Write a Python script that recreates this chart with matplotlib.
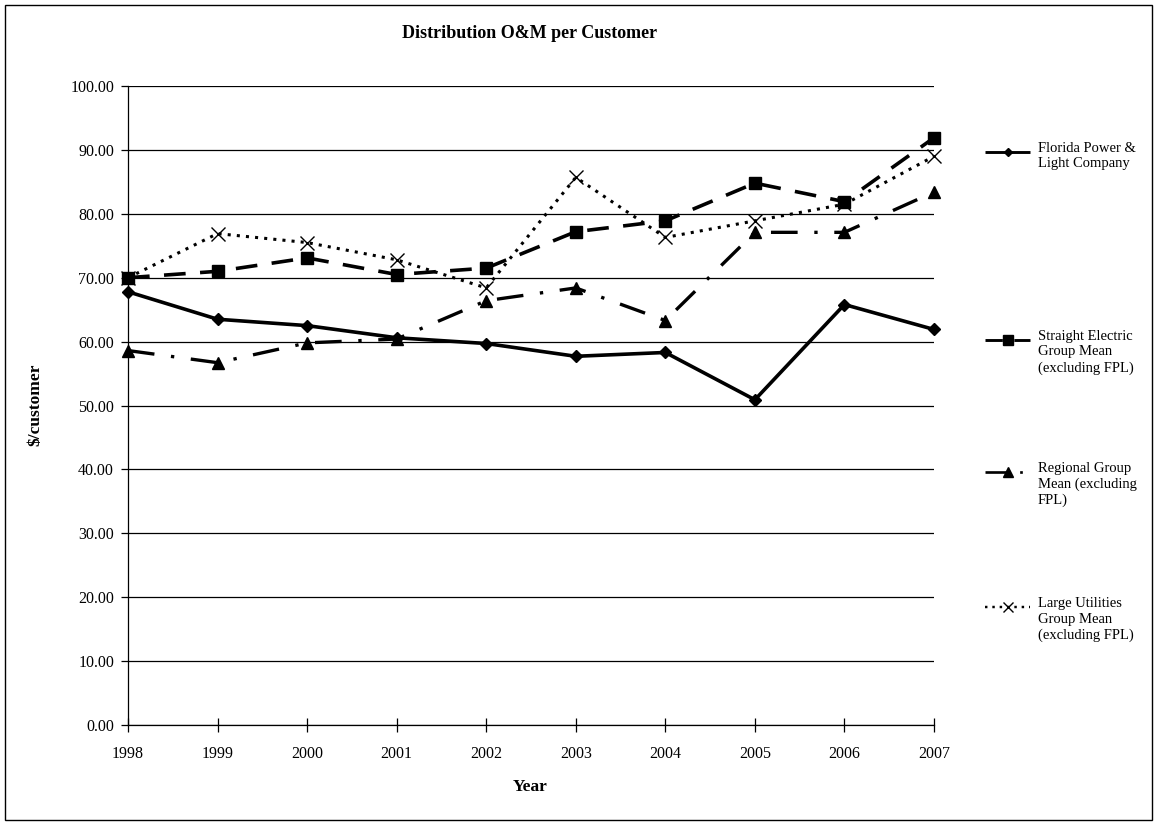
import matplotlib
matplotlib.use("Agg")
import matplotlib.pyplot as plt
from matplotlib.lines import Line2D
from matplotlib.patches import Rectangle

plt.rcParams['font.family'] = ['Liberation Serif', 'DejaVu Serif']

years = [1998, 1999, 2000, 2001, 2002, 2003, 2004, 2005, 2006, 2007]
fpl = [67.8, 63.5, 62.5, 60.6, 59.7, 57.7, 58.3, 50.9, 65.8, 61.9]
straight_electric = [70.0, 71.0, 73.1, 70.5, 71.5, 77.2, 78.9, 84.8, 81.9, 91.9]
regional = [58.6, 56.7, 59.8, 60.4, 66.4, 68.4, 63.3, 77.1, 77.1, 83.4]
large_utilities = [70.0, 76.9, 75.5, 72.8, 68.4, 85.7, 76.3, 78.9, 81.5, 89.0]

series_names = [
    "Florida Power &\nLight Company",
    "Straight Electric\nGroup Mean\n(excluding FPL)",
    "Regional Group\nMean (excluding\nFPL)",
    "Large Utilities\nGroup Mean\n(excluding FPL)",
]
y_ticks = [0, 10, 20, 30, 40, 50, 60, 70, 80, 90, 100]

W, H = 1160, 825
fig = plt.figure(figsize=(W / 100, H / 100), dpi=100)
ax = fig.add_axes([128 / W, 1 - 725 / H, (934 - 128) / W, (725 - 86) / H])

styles = [
    dict(data=fpl, marker="D", ms=6, lw=2.6, dashes=None),
    dict(data=straight_electric, marker="s", ms=9, lw=2.6, dashes=(6, 4)),
    dict(data=regional, marker="^", ms=9, lw=2.4, dashes=(8, 5, 1, 5)),
    dict(data=large_utilities, marker="x", ms=10, lw=2.2, dashes=(1, 2)),
]

for st in styles:
    line, = ax.plot(years, st["data"], color="black", lw=st["lw"], marker=st["marker"],
                    ms=st["ms"], mfc="black", mec="black", mew=1.0,
                    solid_capstyle="butt", dash_capstyle="butt", clip_on=False)
    if st["dashes"] is not None:
        line.set_dashes(st["dashes"])

ax.set_xlim(1998, 2007)
ax.set_ylim(0, 100)
ax.set_yticks(y_ticks)
ax.set_yticklabels([f"{v:.2f}" for v in y_ticks])
ax.set_xticks(years)
ax.set_xticklabels([str(y) for y in years])
ax.yaxis.grid(True, color="black", lw=0.9)
ax.set_axisbelow(True)
for side in ("top", "right"):
    ax.spines[side].set_visible(False)
ax.spines["left"].set_linewidth(0.9)
ax.spines["bottom"].set_linewidth(0.9)
ax.tick_params(axis="both", labelsize=11.5, colors="black", width=0.9)
ax.tick_params(axis="x", direction="inout", length=10, pad=10)
ax.tick_params(axis="y", direction="out", length=5, pad=5)

fig.text(530 / W, 1 - 33 / H, "Distribution O&M per Customer", ha="center", va="center",
         fontsize=13, fontweight="bold")
fig.text(35 / W, 1 - 405 / H, "$/customer", ha="center", va="center", rotation=90,
         fontsize=12.5, fontweight="bold")
fig.text(530 / W, 1 - 787 / H, "Year", ha="center", va="center",
         fontsize=12.5, fontweight="bold")

# legend drawn along the right side
legend_y = [152, 340, 472, 607]
for st, name, ly in zip(styles, series_names, legend_y):
    yf = 1 - ly / H
    ln = Line2D([985 / W, 1030 / W], [yf, yf], transform=fig.transFigure, color="black",
                lw=st["lw"] * 0.8, solid_capstyle="butt", dash_capstyle="butt")
    if st["dashes"] is not None:
        ln.set_dashes(st["dashes"])
    fig.add_artist(ln)
    mk = Line2D([1008 / W], [yf], transform=fig.transFigure, color="black", lw=0,
                marker=st["marker"], ms=st["ms"] * 0.75, mfc="black", mec="black")
    fig.add_artist(mk)
    fig.text(1038 / W, yf + 10 / H, name, ha="left", va="top", fontsize=10.5,
             linespacing=1.25)

fig.add_artist(Rectangle((5 / W, 5 / H), 1147 / W, 815 / H, transform=fig.transFigure,
                         fill=False, ec="black", lw=1.0))

fig.savefig("out.png", dpi=100, facecolor="white")
